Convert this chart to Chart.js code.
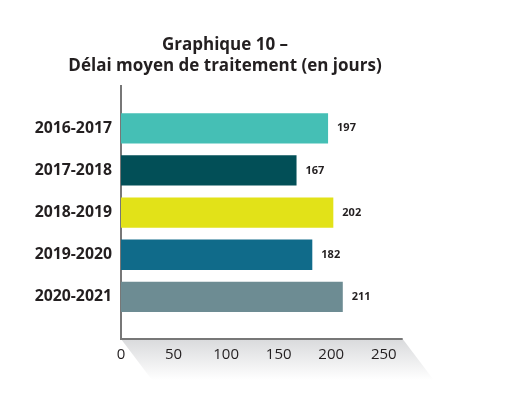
<!DOCTYPE html>
<html>
<head>
<meta charset="utf-8">
<script src="https://cdn.jsdelivr.net/npm/chart.js@4/dist/chart.umd.min.js"></script>
<style>
  html, body { margin: 0; padding: 0; background: #ffffff; }
  #wrap { position: absolute; left: 0; top: 0; width: 505px; height: 420px; }
</style>
</head>
<body>
<div id="wrap"><canvas id="c"></canvas></div>
<script>
const titleLines = ['Graphique 10 –', 'Délai moyen de traitement (en jours)'];
const categories = ['2016-2017', '2017-2018', '2018-2019', '2019-2020', '2020-2021'];
const values = [197, 167, 202, 182, 211];
const barColors = ['#45bfb5', '#024f57', '#e2e218', '#106b8a', '#6d8c93'];
const xTickValues = [0, 50, 100, 150, 200, 250];
const xAxisEnd = 268;   // where the drawn axis line stops
const xMax = 313;       // scale extent (keeps room on the right)

// blank categories at both ends give the axis its empty margin above/below the bars
const labels = [''].concat(categories, ['']);
const data = [null].concat(values, [null]);
const colors = ['#ffffff'].concat(barColors, ['#ffffff']);

const textColor = '#231f20';
const axisColor = '#777777';
const fontFamily = '"Open Sans", "DejaVu Sans", sans-serif';

const axisPlugin = {
  id: 'axisShadow',
  beforeDraw(chart) {
    const { ctx, chartArea } = chart;
    const xs = chart.scales.x;
    const l = chartArea.left, b = chartArea.bottom;
    const r = xs.getPixelForValue(xAxisEnd);
    const dx = 31, dy = 41;
    const g = ctx.createLinearGradient(0, b, 0, b + dy);
    g.addColorStop(0, '#d9dadc');
    g.addColorStop(1, 'rgba(255,255,255,1)');
    ctx.save();
    ctx.beginPath();
    ctx.moveTo(l, b);
    ctx.lineTo(r, b);
    ctx.lineTo(r + dx, b + dy);
    ctx.lineTo(l + dx, b + dy);
    ctx.closePath();
    ctx.fillStyle = g;
    ctx.fill();
    ctx.restore();
  },
  afterDraw(chart) {
    const { ctx, chartArea } = chart;
    const xs = chart.scales.x;
    const b = chartArea.bottom;
    ctx.save();
    ctx.strokeStyle = axisColor;
    ctx.lineWidth = 2;
    ctx.beginPath();
    ctx.moveTo(chartArea.left - 1, b);
    ctx.lineTo(xs.getPixelForValue(xAxisEnd), b);
    ctx.stroke();
    ctx.restore();
  }
};

const valueLabelPlugin = {
  id: 'valueLabels',
  afterDatasetsDraw(chart) {
    const { ctx } = chart;
    const meta = chart.getDatasetMeta(0);
    ctx.save();
    ctx.font = 'bold 11px ' + fontFamily;
    ctx.fillStyle = textColor;
    ctx.textAlign = 'left';
    ctx.textBaseline = 'middle';
    meta.data.forEach((bar, i) => {
      const v = chart.data.datasets[0].data[i];
      if (v === null || v === undefined) return;
      ctx.fillText(String(v), bar.x + 9, bar.y);
    });
    ctx.restore();
  }
};

new Chart(document.getElementById('c'), {
  type: 'bar',
  data: {
    labels: labels,
    datasets: [{
      data: data,
      backgroundColor: colors,
      borderWidth: 0,
      categoryPercentage: 0.9,
      barPercentage: 0.8
    }]
  },
  options: {
    indexAxis: 'y',
    responsive: true,
    maintainAspectRatio: false,
    animation: false,
    layout: { padding: { left: 0, right: 55, top: 0, bottom: 0 } },
    plugins: {
      legend: { display: false },
      tooltip: { enabled: false },
      title: {
        display: true,
        text: titleLines,
        color: textColor,
        font: { family: fontFamily, size: 17, weight: 'bold', lineHeight: 1.24 },
        padding: { top: 35, bottom: 9 }
      }
    },
    scales: {
      y: {
        type: 'category',
        offset: false,
        grid: { display: false, drawTicks: false },
        border: { display: true, color: axisColor, width: 2 },
        ticks: {
          color: textColor,
          padding: 9,
          font: { family: fontFamily, size: 15.8, weight: 'bold' }
        },
        afterFit(scale) { scale.width = 121; }
      },
      x: {
        type: 'linear',
        min: 0,
        max: xMax,
        grid: { display: false, drawTicks: false },
        border: { display: false },
        afterBuildTicks(scale) { scale.ticks = xTickValues.map(v => ({ value: v })); },
        ticks: {
          color: textColor,
          padding: 7,
          font: { family: fontFamily, size: 15 }
        },
        afterFit(scale) { scale.height = 81; }
      }
    }
  },
  plugins: [axisPlugin, valueLabelPlugin]
});
</script>
</body>
</html>
